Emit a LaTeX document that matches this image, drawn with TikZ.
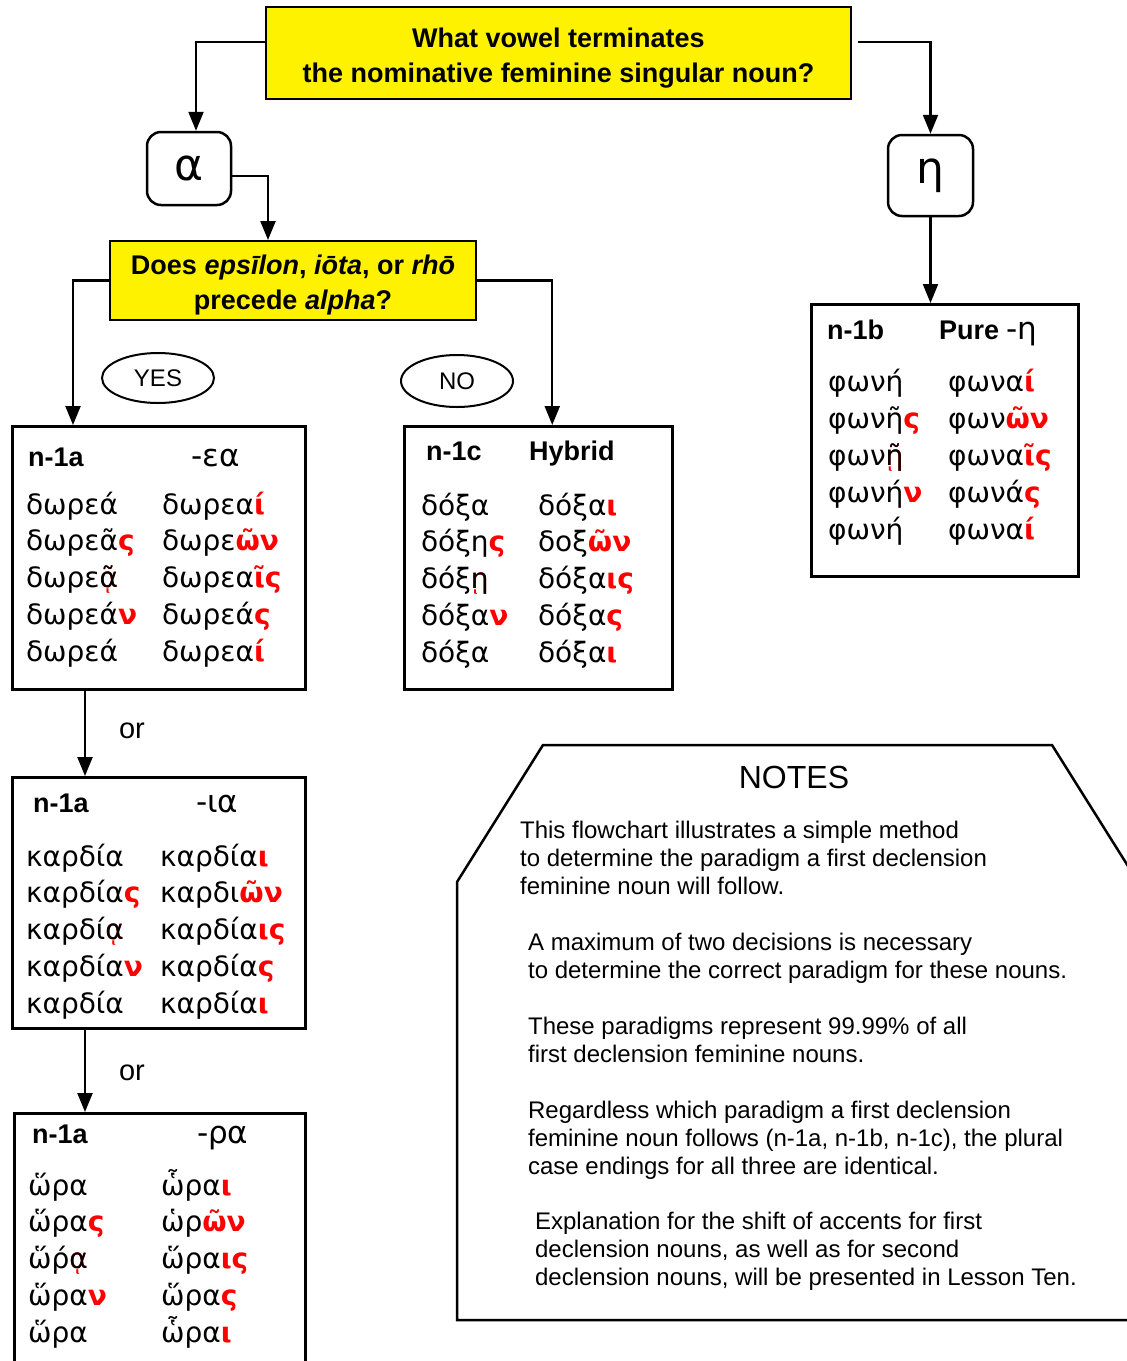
\documentclass[tikz,border=0pt]{standalone}
\usepackage{fontspec}
\setmainfont{Liberation Sans}
\newfontfamily\grk{DejaVu Sans}
\usetikzlibrary{shapes.geometric,arrows.meta}

% red case endings, red iota subscript laid under a black letter
\newcommand{\rd}[1]{\textcolor{red}{\bfseries #1}}
\newcommand{\isub}[2]{\rlap{\textcolor{red}{#1}}#2}
\newcommand{\qfont}{\fontsize{27pt}{35pt}\selectfont\bfseries}
\newcommand{\headfont}{\fontsize{27pt}{27pt}\selectfont\bfseries}
\newcommand{\grkhead}{\grk\mdseries\fontsize{31pt}{31pt}\selectfont}
\newcommand{\wordfont}{\grk\fontsize{28pt}{28pt}\selectfont}
\newcommand{\notefont}{\fontsize{24pt}{28pt}\selectfont}

\tikzset{
  question/.style={draw, line width=2pt, fill=yellow, inner sep=0pt},
  qtext/.style={align=center, inner sep=0pt, font=\qfont},
  letterbox/.style={draw, line width=2.5pt, rounded corners=14pt, inner sep=0pt, font=\grk\fontsize{44pt}{44pt}\selectfont},
  parabox/.style={draw, line width=2.5pt, anchor=north west, inner sep=0pt},
  answer/.style={draw, ellipse, line width=2pt, minimum width=112pt, minimum height=50pt, inner sep=0pt, font=\fontsize{24pt}{24pt}\selectfont},
  head/.style={anchor=base west, inner sep=0pt, font=\headfont},
  word/.style={anchor=base west, inner sep=0pt, font=\wordfont},
  note/.style={anchor=north west, align=left, inner sep=0pt, font=\notefont},
}

\begin{document}
\begin{tikzpicture}[x=1pt, y=-1pt, line width=2.2pt, >={Triangle[length=19pt,width=15pt]}]
  \useasboundingbox (0,0) rectangle (1127,1361);

  % the two questions
  \node[question, minimum width=585pt, minimum height=92pt] (q1) at (558.5,53) {};
  \node[qtext] (q1-t) at ([yshift=-5pt]q1.center)
    {What vowel terminates\\the nominative feminine singular noun?};
  \node[question, minimum width=366pt, minimum height=79pt] (q2) at (293,280.5) {};
  \node[qtext] (q2-t) at ([yshift=-5pt]q2.center)
    {Does \textit{epsīlon}, \textit{iōta}, or \textit{rhō}\\precede \textit{alpha}?};

  % final vowel
  \node[letterbox, minimum width=84pt, minimum height=73pt] (alpha) at (189,168.5) {α};
  \node[letterbox, minimum width=85pt, minimum height=81pt] (eta) at (930.5,175.5) {η};

  \node[answer] (yes) at (158,378) {YES};
  \node[answer, minimum height=52pt] (no) at (457,381) {NO};

  % paradigm boxes
  \node[parabox, minimum width=293pt, minimum height=263pt] (ea) at (11,425) {};
  \node[parabox, minimum width=268pt, minimum height=263pt] (hyb) at (403,425) {};
  \node[parabox, minimum width=267pt, minimum height=272pt] (pure) at (810,303) {};
  \node[parabox, minimum width=293pt, minimum height=251pt] (ia) at (11,776) {};
  \node[parabox, minimum width=291pt, minimum height=300pt] (ra) at (13,1112) {};

  % n-1a  -εα
  \node[head] (ea-h1) at (27,466) {n-1a};
  \node[head] (ea-h2) at (190,466) {\grkhead -εα};
  \foreach \l/\r [count=\i from 0] in {δωρεά/δωρεα\rd{ί}, δωρεᾶ\rd{ς}/δωρε\rd{ῶν},
      δωρε\isub{ᾷ}{ᾶ}/δωρεα\rd{ῖς}, δωρεά\rd{ν}/δωρεά\rd{ς}, δωρεά/δωρεα\rd{ί}}{
    \node[word] (ea-l\i) at (25,{514+36.8*\i}) {\l};
    \node[word] (ea-r\i) at (161,{514+36.8*\i}) {\r};
  }

  % n-1c  hybrid
  \node[head] (hyb-h1) at (425,460) {n-1c};
  \node[head] (hyb-h2) at (528,460) {Hybrid};
  \foreach \l/\r [count=\i from 0] in {δόξα/δόξα\rd{ι}, δόξη\rd{ς}/δοξ\rd{ῶν},
      δόξ\isub{ῃ}{η}/δόξα\rd{ις}, δόξα\rd{ν}/δόξα\rd{ς}, δόξα/δόξα\rd{ι}}{
    \node[word] (hyb-l\i) at (420,{515+36.8*\i}) {\l};
    \node[word] (hyb-r\i) at (537,{515+36.8*\i}) {\r};
  }

  % n-1b  pure eta
  \node[head] (pure-h1) at (826,339) {n-1b};
  \node[head] (pure-h2) at (938,339) {Pure {\grkhead -η}};
  \foreach \l/\r [count=\i from 0] in {φωνή/φωνα\rd{ί}, φωνῆ\rd{ς}/φων\rd{ῶν},
      φων\isub{ῇ}{ῆ}/φωνα\rd{ῖς}, φωνή\rd{ν}/φωνά\rd{ς}, φωνή/φωνα\rd{ί}}{
    \node[word] (pure-l\i) at (827,{391+37*\i}) {\l};
    \node[word] (pure-r\i) at (947,{391+37*\i}) {\r};
  }

  % n-1a  -ια
  \node[head] (ia-h1) at (32,812) {n-1a};
  \node[head] (ia-h2) at (195,812) {\grkhead -ια};
  \foreach \l/\r [count=\i from 0] in {καρδία/καρδία\rd{ι}, καρδία\rd{ς}/καρδι\rd{ῶν},
      καρδί\isub{ᾳ}{α}/καρδία\rd{ις}, καρδία\rd{ν}/καρδία\rd{ς}, καρδία/καρδία\rd{ι}}{
    \node[word] (ia-l\i) at (25,{866+36.8*\i}) {\l};
    \node[word] (ia-r\i) at (159,{866+36.8*\i}) {\r};
  }

  % n-1a  -ρα
  \node[head] (ra-h1) at (31,1143) {n-1a};
  \node[head] (ra-h2) at (196,1143) {\grkhead -ρα};
  \foreach \l/\r [count=\i from 0] in {ὥρα/ὧρα\rd{ι}, ὥρα\rd{ς}/ὡρ\rd{ῶν},
      ὥρ́\isub{ᾳ}{α}/ὥρα\rd{ις}, ὥρα\rd{ν}/ὥρα\rd{ς}, ὥρα/ὧρα\rd{ι}}{
    \node[word] (ra-l\i) at (27,{1195+36.8*\i}) {\l};
    \node[word] (ra-r\i) at (160,{1195+36.8*\i}) {\r};
  }

  % connectors
  \draw[->] ([yshift=11pt]q1.west) -| ([xshift=7pt]alpha.north);
  \draw[->] ([xshift=6pt,yshift=11pt]q1.east) -| (eta.north);
  \draw[->] ([yshift=-7.5pt]alpha.east) -| ([xshift=-25pt]q2.north);
  \draw[->] (eta.south) -- (eta.south |- pure.north);
  \draw[->] (q2.west) -| ([xshift=62pt]ea.north west);
  \draw[->] (q2.east) -| ([xshift=14pt]hyb.north);
  \draw[->] ([xshift=74pt]ea.south west) -- ([xshift=74pt]ia.north west);
  \draw[->] ([xshift=74pt]ia.south west) -- ([xshift=72pt]ra.north west);
  \node[font=\fontsize{29pt}{29pt}\selectfont] (or1) at (132,731) {or};
  \node[font=\fontsize{29pt}{29pt}\selectfont] (or2) at (132,1073) {or};

  % notes
  \draw[line width=2.5pt] (1138,1320) -- (457,1320) -- (457,882) -- (543,745)
    -- (1052,745) -- (1138,882);
  \node[font=\fontsize{32pt}{32pt}\selectfont] (notes) at (794,777) {NOTES};
  \node[note] (n1) at (519,819.5) {This flowchart illustrates a simple method\\to determine the paradigm a first declension\\feminine noun will follow.};
  \node[note] (n2) at (527,931.5) {A maximum of two decisions is necessary\\to determine the correct paradigm for these nouns.};
  \node[note] (n3) at (527,1015.5) {These paradigms represent 99.99\% of all\\first declension feminine nouns.};
  \node[note] (n4) at (527,1099.5) {Regardless which paradigm a first declension\\feminine noun follows (n-1a, n-1b, n-1c), the plural\\case endings for all three are identical.};
  \node[note] (n5) at (534,1210.5) {Explanation for the shift of accents for first\\declension nouns, as well as for second\\declension nouns, will be presented in Lesson Ten.};
\end{tikzpicture}
\end{document}
